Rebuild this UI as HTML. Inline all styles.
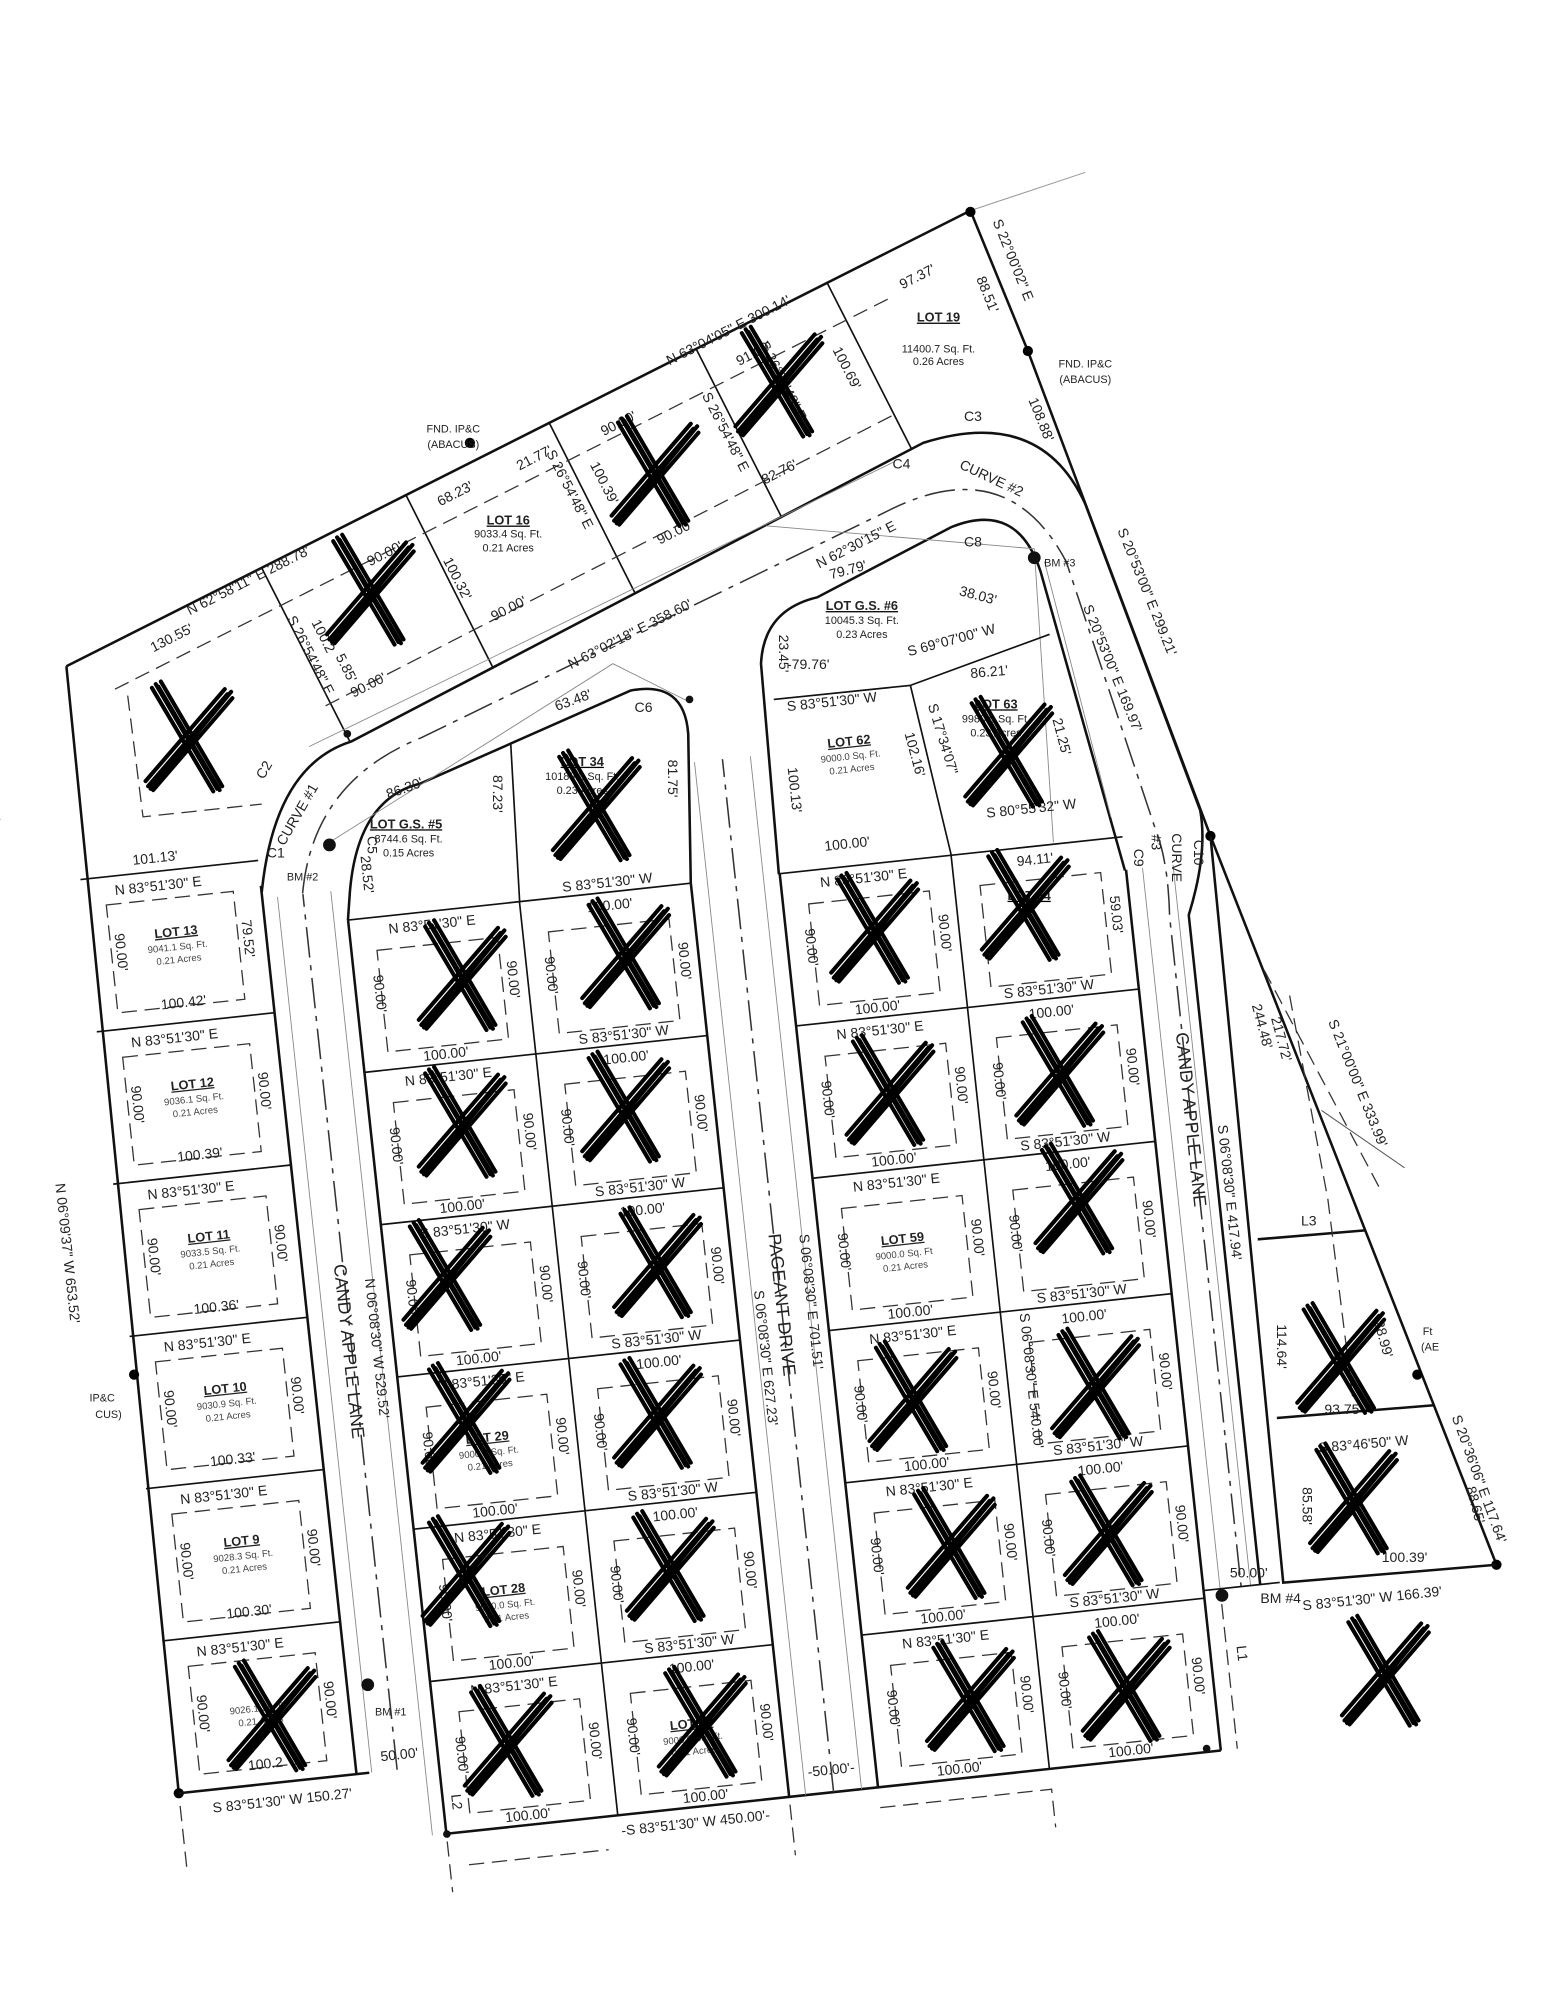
<!DOCTYPE html>
<html><head><meta charset="utf-8"><style>
html,body{margin:0;padding:0;background:#fff;}
svg{display:block;}
text{font-family:"Liberation Sans",sans-serif;fill:#222;}
.b{font-size:11px;}
.s{font-size:7.5px;fill:#444;}
.n{font-size:10px;font-weight:bold;text-decoration:underline;}
.L{stroke:#111;stroke-width:2;fill:none;}
.l{stroke:#111;stroke-width:1.3;fill:none;}
.d{stroke:#333;stroke-width:1;fill:none;stroke-dasharray:12 6;}
.c{stroke:#333;stroke-width:1.2;fill:none;stroke-dasharray:24 6 4 6;}
.w{stroke:#888;stroke-width:.7;fill:none;}
</style></head><body>
<svg width="1545" height="2000" viewBox="0 0 1210 1567" preserveAspectRatio="none" xmlns="http://www.w3.org/2000/svg">
<defs>
<g id="x" stroke="#000" stroke-linecap="round" fill="none">
<path d="M-26,-42 L22,40 M-22,-44 L26,38 M-29,-39 L19,42 M-24,-40 L24,41" stroke-width="3.2"/>
<path d="M-32,38 L30,-34 M-28,41 L34,-31 M-34,34 L28,-38 M-30,40 L33,-36" stroke-width="3.2"/>
</g>
</defs>
<rect width="1228" height="1590" fill="#fff"/>

<path class="L" d="M52,522 L760,165 L805,275 L948,655 L1172,1226"/>
<path class="L" d="M52,522 L140,1405"/>
<line x1="760" y1="165" x2="850" y2="135" stroke="#999" stroke-width=".8"/>
<circle cx="760" cy="166" r="4"/><circle cx="805" cy="275" r="4"/><circle cx="368" cy="347" r="4"/>
<circle cx="948" cy="655" r="4"/><circle cx="1110" cy="1077" r="4"/><circle cx="105" cy="1077" r="4"/>
<circle cx="1172" cy="1226" r="4"/><circle cx="140" cy="1405" r="4"/>

<path class="l" d="M205,445 L274,581 M318,388 L386,523 M430,331 L497,464 M545,273 L612,405 M648,222 L714,352"/>
<path class="d" d="M90,540 L700,232 M255,553 L700,325 M100,545 L112,640 L205,630"/>

<path class="L" d="M205,699 Q215,600 275,581 L723,347 Q815,318 850,395 L940,635 Q946,668 931,717 L987,1242"/>
<path class="L" d="M272.5,721 L274,699 Q280,626 329,614 L494,541 Q536,533 539,575 L541,692"/>
<path class="L" d="M610,685 L596,520 Q598,478 640,468 L745,413 Q797,392 815,448 L881,682"/>
<path class="L" d="M948,655 L1005,1240 L1172,1226 M985,971 L1069,964 M1000,1111 L1123,1101"/>
<path class="c" d="M237,700 Q245,612 330,578 L700,398 Q790,355 835,440 L905,650 Q915,675 916,718 L972,1243"/>
<path class="w" d="M258,660 L480,520 L540,550 M600,412 L810,430 L825,660 M818,440 L870,640 M242,585 L700,362"/>
<path class="d" d="M990,760 L1080,930 M1010,780 L1040,940 L1060,1100"/>
<line x1="1035" y1="870" x2="1100" y2="915" stroke="#555" stroke-width=".8"/>

<path class="l" d="M606,548 L713,537 L745,670 M713,537 L822,497"/>
<path class="l" d="M407,707 L400,583"/>

<g transform="translate(140,1405) rotate(-6.14)">
<path class="L" d="M140,0 L140,-700"/>
<path class="l" d="M0,0 H150 M0,-120 H140 M0,-240 H140 M0,-360 H140 M0,-480 H140 M0,-600 H140 M0,-720 H140"/>
<path class="L" d="M0,0 H150"/>
<g class="d">
<rect x="18" y="-698" width="100" height="85"/><rect x="18" y="-578" width="100" height="85"/>
<rect x="18" y="-458" width="100" height="85"/><rect x="18" y="-338" width="100" height="85"/>
<rect x="18" y="-218" width="100" height="85"/><rect x="18" y="-98" width="100" height="85"/>
</g>
<path class="c" d="M172,0 V-690"/>
<path class="w" d="M152,0 V-690 M194,54 V-690"/>
<path class="L" d="M205,54 V-666 M475,54 V-666 M205,54 H815"/>
<path class="l" d="M340,54 V-666 M205,-66 H475 M205,-186 H475 M205,-306 H475 M205,-426 H475 M205,-546 H475 M205,-666 H475"/>
<path class="c" d="M510,54 V-760"/>
<path class="w" d="M488,54 V-760 M532,54 V-760"/>
<path class="L" d="M545,54 V-666 M815,54 V-640"/>
<path class="l" d="M680,54 V-666 M545,-66 H815 M545,-186 H815 M545,-306 H815 M545,-426 H815 M545,-546 H815 M545,-666 H815"/>
<path class="w" d="M828,-72 V-640 M852,-72 V-640"/>
<path class="l" d="M815,-72 H875"/>
<path class="d" d="M828,-60 V54 M0,10 V60 M205,60 V100 M475,60 V100 M545,70 H680 V100 M220,80 H330"/>
<g class="d">
<rect x="225" y="-640" width="95" height="80"/><rect x="360" y="-640" width="95" height="80"/>
<rect x="225" y="-520" width="95" height="80"/><rect x="360" y="-520" width="95" height="80"/>
<rect x="225" y="-400" width="95" height="80"/><rect x="360" y="-400" width="95" height="80"/>
<rect x="225" y="-280" width="95" height="80"/><rect x="360" y="-280" width="95" height="80"/>
<rect x="225" y="-160" width="95" height="80"/><rect x="360" y="-160" width="95" height="80"/>
<rect x="225" y="-40" width="95" height="80"/><rect x="360" y="-40" width="95" height="80"/>
<rect x="565" y="-640" width="95" height="80"/><rect x="700" y="-640" width="95" height="80"/>
<rect x="565" y="-520" width="95" height="80"/><rect x="700" y="-520" width="95" height="80"/>
<rect x="565" y="-400" width="95" height="80"/><rect x="700" y="-400" width="95" height="80"/>
<rect x="565" y="-280" width="95" height="80"/><rect x="700" y="-280" width="95" height="80"/>
<rect x="565" y="-160" width="95" height="80"/><rect x="700" y="-160" width="95" height="80"/>
<rect x="565" y="-40" width="95" height="80"/><rect x="700" y="-40" width="95" height="80"/>
</g>

<g class="b" text-anchor="middle">
<text x="60" y="-705">N 83°51'30" E</text><text x="60" y="-585">N 83°51'30" E</text>
<text x="60" y="-465">N 83°51'30" E</text><text x="60" y="-345">N 83°51'30" E</text>
<text x="60" y="-225">N 83°51'30" E</text><text x="60" y="-105">N 83°51'30" E</text>
<text x="70" y="-612">100.42'</text><text x="70" y="-492">100.39'</text><text x="70" y="-372">100.36'</text>
<text x="70" y="-252">100.33'</text><text x="70" y="-132">100.30'</text><text x="70" y="-12">100.2</text>
<text x="60" y="-727">101.13'</text>
<text transform="translate(22,-660) rotate(90)">90.00'</text><text transform="translate(122,-660) rotate(90)">79.52'</text>
<text transform="translate(22,-540) rotate(90)">90.00'</text><text transform="translate(122,-540) rotate(90)">90.00'</text>
<text transform="translate(22,-420) rotate(90)">90.00'</text><text transform="translate(122,-420) rotate(90)">90.00'</text>
<text transform="translate(22,-300) rotate(90)">90.00'</text><text transform="translate(122,-300) rotate(90)">90.00'</text>
<text transform="translate(22,-180) rotate(90)">90.00'</text><text transform="translate(122,-180) rotate(90)">90.00'</text>
<text transform="translate(22,-60) rotate(90)">90.00'</text><text transform="translate(122,-60) rotate(90)">90.00'</text>
</g>
<g text-anchor="middle">
<text class="n" x="70" y="-668">LOT 13</text><text class="s" x="70" y="-657">9041.1 Sq. Ft.</text><text class="s" x="70" y="-647">0.21 Acres</text>
<text class="n" x="70" y="-548">LOT 12</text><text class="s" x="70" y="-537">9036.1 Sq. Ft.</text><text class="s" x="70" y="-527">0.21 Acres</text>
<text class="n" x="70" y="-428">LOT 11</text><text class="s" x="70" y="-417">9033.5 Sq. Ft.</text><text class="s" x="70" y="-407">0.21 Acres</text>
<text class="n" x="70" y="-308">LOT 10</text><text class="s" x="70" y="-297">9030.9 Sq. Ft.</text><text class="s" x="70" y="-287">0.21 Acres</text>
<text class="n" x="70" y="-188">LOT 9</text><text class="s" x="70" y="-177">9028.3 Sq. Ft.</text><text class="s" x="70" y="-167">0.21 Acres</text>
<text class="s" x="70" y="-57">9026.1 Sq. Ft.</text><text class="s" x="70" y="-47">0.21 Acres</text>
<text class="n" x="610" y="-368">LOT 59</text><text class="s" x="610" y="-357">9000.0 Sq. Ft</text><text class="s" x="610" y="-347">0.21 Acres</text>
<text class="n" x="270" y="-128">LOT 28</text><text class="s" x="270" y="-117">9000.0 Sq. Ft.</text><text class="s" x="270" y="-107">0.21 Acres</text>
<text class="n" x="270" y="-248">LOT 29</text><text class="s" x="270" y="-237">9000.0 Sq. Ft.</text><text class="s" x="270" y="-227">0.21 Acres</text>
<text class="n" x="405" y="-8">LOT 40</text><text class="s" x="405" y="3">9000.0 Sq. Ft.</text><text class="s" x="405" y="13">0.21 Acres</text>
</g>
<g class="b" text-anchor="middle">
<text x="270" y="-652">N 83°51'30" E</text><text x="270" y="-532">N 83°51'30" E</text><text x="270" y="-412">S 83°51'30" W</text>
<text x="270" y="-292">N 83°51'30" E</text><text x="270" y="-172">N 83°51'30" E</text><text x="270" y="-52">N 83°51'30" E</text>
<text x="270" y="-550">100.00'</text><text x="270" y="-430">100.00'</text><text x="270" y="-310">100.00'</text>
<text x="270" y="-190">100.00'</text><text x="270" y="-70">100.00'</text><text x="270" y="50">100.00'</text>
<text x="410" y="-670">S 83°51'30" W</text><text x="410" y="-550">S 83°51'30" W</text><text x="410" y="-430">S 83°51'30" W</text>
<text x="410" y="-310">S 83°51'30" W</text><text x="410" y="-190">S 83°51'30" W</text><text x="410" y="-70">S 83°51'30" W</text>
<text x="410" y="-652">100.00'</text><text x="410" y="-532">100.00'</text><text x="410" y="-412">100.00'</text>
<text x="410" y="-292">100.00'</text><text x="410" y="-172">100.00'</text><text x="410" y="-52">100.00'</text><text x="410" y="50">100.00'</text>
<text x="610" y="-652">N 83°51'30" E</text><text x="610" y="-532">N 83°51'30" E</text><text x="610" y="-412">N 83°51'30" E</text>
<text x="610" y="-292">N 83°51'30" E</text><text x="610" y="-172">N 83°51'30" E</text><text x="610" y="-52">N 83°51'30" E</text>
<text x="610" y="-550">100.00'</text><text x="610" y="-430">100.00'</text><text x="610" y="-310">100.00'</text>
<text x="610" y="-190">100.00'</text><text x="610" y="-70">100.00'</text><text x="610" y="50">100.00'</text>
<text x="745" y="-550">S 83°51'30" W</text><text x="745" y="-430">S 83°51'30" W</text><text x="745" y="-310">S 83°51'30" W</text>
<text x="745" y="-190">S 83°51'30" W</text><text x="745" y="-70">S 83°51'30" W</text>
<text x="745" y="-652">94.11'</text><text x="745" y="-532">100.00'</text><text x="745" y="-412">100.00'</text>
<text x="745" y="-292">100.00'</text><text x="745" y="-172">100.00'</text><text x="745" y="-52">100.00'</text><text x="745" y="50">100.00'</text>
<text x="600" y="-792">S 83°51'30" W</text><text x="600" y="-680">100.00'</text>
<text x="610" y="-760" class="n">LOT 62</text><text x="610" y="-749" class="s">9000.0 Sq. Ft.</text><text x="610" y="-739" class="s">0.21 Acres</text>
<text x="400" y="70">-S 83°51'30" W 450.00'-</text>
<text x="80" y="18">S 83°51'30" W  150.27'</text>
<text x="175" y="-8">50.00'</text><text x="510" y="40">-50.00'-</text>
</g>
<g class="b" text-anchor="middle">
<text transform="translate(220,-606) rotate(90)">90.00'</text><text transform="translate(325,-606) rotate(90)">90.00'</text>
<text transform="translate(220,-486) rotate(90)">90.00'</text><text transform="translate(325,-486) rotate(90)">90.00'</text>
<text transform="translate(220,-366) rotate(90)">90.00'</text><text transform="translate(325,-366) rotate(90)">90.00'</text>
<text transform="translate(220,-246) rotate(90)">90.00'</text><text transform="translate(325,-246) rotate(90)">90.00'</text>
<text transform="translate(220,-126) rotate(90)">90.00'</text><text transform="translate(325,-126) rotate(90)">90.00'</text>
<text transform="translate(220,-6) rotate(90)">90.00'</text><text transform="translate(325,-6) rotate(90)">90.00'</text>
<text transform="translate(355,-606) rotate(90)">90.00'</text><text transform="translate(460,-606) rotate(90)">90.00'</text>
<text transform="translate(355,-486) rotate(90)">90.00'</text><text transform="translate(460,-486) rotate(90)">90.00'</text>
<text transform="translate(355,-366) rotate(90)">90.00'</text><text transform="translate(460,-366) rotate(90)">90.00'</text>
<text transform="translate(355,-246) rotate(90)">90.00'</text><text transform="translate(460,-246) rotate(90)">90.00'</text>
<text transform="translate(355,-126) rotate(90)">90.00'</text><text transform="translate(460,-126) rotate(90)">90.00'</text>
<text transform="translate(355,-6) rotate(90)">90.00'</text><text transform="translate(460,-6) rotate(90)">90.00'</text>
<text transform="translate(560,-606) rotate(90)">90.00'</text><text transform="translate(665,-606) rotate(90)">90.00'</text>
<text transform="translate(560,-486) rotate(90)">90.00'</text><text transform="translate(665,-486) rotate(90)">90.00'</text>
<text transform="translate(560,-366) rotate(90)">90.00'</text><text transform="translate(665,-366) rotate(90)">90.00'</text>
<text transform="translate(560,-246) rotate(90)">90.00'</text><text transform="translate(665,-246) rotate(90)">90.00'</text>
<text transform="translate(560,-126) rotate(90)">90.00'</text><text transform="translate(665,-126) rotate(90)">90.00'</text>
<text transform="translate(560,-6) rotate(90)">90.00'</text><text transform="translate(665,-6) rotate(90)">90.00'</text>
<text transform="translate(695,-486) rotate(90)">90.00'</text><text transform="translate(800,-606) rotate(90)">59.03'</text>
<text transform="translate(800,-486) rotate(90)">90.00'</text><text transform="translate(800,-366) rotate(90)">90.00'</text>
<text transform="translate(800,-246) rotate(90)">90.00'</text><text transform="translate(800,-126) rotate(90)">90.00'</text>
<text transform="translate(800,-6) rotate(90)">90.00'</text><text transform="translate(695,-126) rotate(90)">90.00'</text>
<text transform="translate(695,-6) rotate(90)">90.00'</text><text transform="translate(695,-366) rotate(90)">90.00'</text>
<text transform="translate(560,-730) rotate(90)">100.13'</text>
<text transform="translate(220,-700) rotate(90)">28.52'</text>
<text transform="translate(-45,-430) rotate(90)">N 06°09'37" W  653.52'</text>
<text transform="translate(-65,-790) rotate(90)">113.52'</text>
<text transform="translate(188,-330) rotate(90)">N 06°08'30" W  529.52'</text>
<text transform="translate(490,-290) rotate(90)">S 06°08'30" E  627.23'</text>
<text transform="translate(530,-330) rotate(90)">S 06°08'30" E  701.51'</text>
<text transform="translate(695,-250) rotate(90)">S 06°08'30" E  540.00'</text>
<text transform="translate(865,-380) rotate(90)">S 06°08'30" E  417.94'</text>
<text transform="translate(836,-20) rotate(90)">L1</text>
<text transform="translate(212,30) rotate(90)">L2</text>
</g>
<g text-anchor="middle" style="font-size:14px">
<text transform="translate(165,-330) rotate(90)">CANDY APPLE LANE</text>
<text transform="translate(506,-330) rotate(90)">PAGEANT DRIVE</text>
<text transform="translate(840,-440) rotate(90)">CANDY APPLE LANE</text>
</g>
</g>

<g class="b" text-anchor="middle">
<text transform="translate(196,458) rotate(-27)">N 62°58'11" E  288.78'</text>
<text transform="translate(572,262) rotate(-27)">N 63°04'05" E  300.14'</text>
<text transform="translate(136,503) rotate(-27)">130.55'</text>
<text transform="translate(495,500) rotate(-27)">N 63°02'18" E  358.60'</text>
<text transform="translate(672,430) rotate(-27)">N 62°30'15" E</text>
<text transform="translate(358,390) rotate(-27)">68.23'</text>
<text transform="translate(420,362) rotate(-27)">21.77'</text>
<text transform="translate(303,437) rotate(-27)">90.00'</text>
<text transform="translate(290,540) rotate(-27)">90.00'</text>
<text transform="translate(400,480) rotate(-27)">90.00'</text>
<text transform="translate(486,335) rotate(-27)">90.00'</text>
<text transform="translate(530,420) rotate(-27)">90.00'</text>
<text transform="translate(592,280) rotate(-27)">91.00'</text>
<text transform="translate(612,373) rotate(-27)">82.76'</text>
<text transform="translate(720,220) rotate(-27)">97.37'</text>
<text transform="translate(665,450) rotate(-15)">79.79'</text>
<text transform="translate(765,470) rotate(15)">38.03'</text>
<text transform="translate(746,505) rotate(-15)">S 69°07'00" W</text>
<text x="633" y="524">-79.76'</text>
<text transform="translate(775,530) rotate(-5)">86.21'</text>
<text transform="translate(808,637) rotate(-6)">S 80°55'32" W</text>
<text transform="translate(318,621) rotate(-20)">86.30'</text>
<text transform="translate(450,552) rotate(-20)">63.48'</text>
<text transform="translate(240,515) rotate(63)">S 26°54'48" E</text>
<text transform="translate(355,455) rotate(63)">100.32'</text>
<text transform="translate(250,500) rotate(63)">100.2</text>
<text transform="translate(443,385) rotate(63)">S 26°54'48" E</text>
<text transform="translate(470,380) rotate(63)">100.39'</text>
<text transform="translate(565,340) rotate(63)">S 26°54'48" E</text>
<text transform="translate(610,300) rotate(63)">S 26°54'48" E</text>
<text transform="translate(660,290) rotate(63)">100.69'</text>
<text transform="translate(268,525) rotate(63)">5.85'</text>
<text transform="translate(790,205) rotate(68)">S 22°00'02" E</text>
<text transform="translate(770,232) rotate(68)">88.51'</text>
<text transform="translate(812,330) rotate(68)">108.88'</text>
<text transform="translate(895,465) rotate(68)">S 20°53'00" E  299.21'</text>
<text transform="translate(868,525) rotate(68)">S 20°53'00" E  169.97'</text>
<text transform="translate(1060,850) rotate(68)">S 21°00'00" E  333.99'</text>
<text transform="translate(985,805) rotate(75)">244.48'</text>
<text transform="translate(1000,815) rotate(75)">217.72'</text>
<text transform="translate(1155,1160) rotate(70)">S 20°36'06" E  117.64'</text>
<text transform="translate(713,592) rotate(75)">102.16'</text>
<text transform="translate(735,580) rotate(73)">S 17°34'07"</text>
<text transform="translate(828,578) rotate(75)">21.25'</text>
<text transform="translate(386,622) rotate(90)">87.23'</text>
<text transform="translate(523,610) rotate(90)">81.75'</text>
<text transform="translate(610,512) rotate(90)">23.45'</text>
<text transform="translate(288,662) rotate(90)">C5</text>
<text transform="translate(210,605) rotate(-60)">C2</text>
<text transform="translate(236,640) rotate(-60)">CURVE #1</text>
<text x="216" y="672">C1</text>
<text x="762" y="330">C3</text><text x="706" y="367">C4</text><text x="762" y="428">C8</text><text x="504" y="558">C6</text>
<text transform="translate(775,378) rotate(25)">CURVE  #2</text>
<text transform="translate(935,668) rotate(90)">C10</text>
<text transform="translate(918,672) rotate(90)">CURVE</text>
<text transform="translate(902,660) rotate(90)">#3</text>
<text transform="translate(888,672) rotate(90)">C9</text>
<text x="1025" y="960">L3</text>
<text transform="translate(1000,1055) rotate(90)">114.64'</text>
<text transform="translate(1080,1050) rotate(75)">28.99'</text>
<text x="1052" y="1108">93.75'</text>
<text transform="translate(1068,1135) rotate(-5)">S 83°46'50" W</text>
<text transform="translate(1020,1180) rotate(90)">85.58'</text>
<text transform="translate(1152,1180) rotate(75)">88.65'</text>
<text x="1100" y="1224">100.39'</text>
<text x="978" y="1236">50.00'</text>
<text transform="translate(1075,1256) rotate(-6)">S 83°51'30" W  166.39'</text>
<text x="1003" y="1256">BM #4</text>
</g>
<g class="s" style="font-size:8.5px" text-anchor="middle">
<text x="355" y="339">FND. IP&amp;C</text><text x="355" y="351">(ABACUS)</text>
<text x="850" y="288">FND. IP&amp;C</text><text x="850" y="300">(ABACUS)</text>
<text x="80" y="1098">IP&amp;C</text><text x="85" y="1111">CUS)</text>
<text x="1118" y="1046">Ft</text><text x="1120" y="1058">(AE</text>
<text x="237" y="690">BM #2</text><text x="306" y="1344">BM #1</text><text x="830" y="444">BM #3</text>
<text x="735" y="276">11400.7 Sq. Ft.</text><text x="735" y="286">0.26 Acres</text>
<text x="398" y="421">9033.4 Sq. Ft.</text><text x="398" y="432">0.21 Acres</text>
<text x="320" y="660">8744.6 Sq. Ft.</text><text x="320" y="671">0.15 Acres</text>
<text x="456" y="611">10189.3 Sq. Ft.</text><text x="456" y="622">0.23 Acres</text>
<text x="675" y="489">10045.3 Sq. Ft.</text><text x="675" y="500">0.23 Acres</text>
<text x="780" y="566">9980.0 Sq. Ft.</text><text x="780" y="577">0.23 Acres</text>
</g>
<g class="n" text-anchor="middle">
<text x="735" y="252">LOT 19</text><text x="398" y="411">LOT 16</text>
<text x="318" y="649">LOT G.S. #5</text><text x="456" y="600">LOT 34</text>
<text x="675" y="478">LOT G.S. #6</text><text x="780" y="555">LOT 63</text>
<text x="806" y="705">LOT 64</text>
</g>
<g fill="#111">
<circle cx="258" cy="662" r="5"/><circle cx="288" cy="1320" r="5"/><circle cx="810" cy="437" r="5"/><circle cx="957" cy="1250" r="5"/>
<circle cx="272" cy="575" r="3"/><circle cx="350" cy="1437" r="3"/><circle cx="945" cy="1370" r="3"/><circle cx="540" cy="548" r="3"/>
</g>

<g>
<use href="#x" x="148" y="578"/><use href="#x" x="290" y="463"/><use href="#x" x="513" y="370"/><use href="#x" x="610" y="300"/>
<use href="#x" x="467" y="632"/><use href="#x" x="362" y="765"/><use href="#x" x="490" y="748"/><use href="#x" x="362" y="880"/>
<use href="#x" x="490" y="868"/><use href="#x" x="350" y="1000"/><use href="#x" x="515" y="990"/><use href="#x" x="365" y="1112"/>
<use href="#x" x="515" y="1108"/><use href="#x" x="365" y="1232"/><use href="#x" x="525" y="1228"/><use href="#x" x="213" y="1345"/>
<use href="#x" x="398" y="1365"/><use href="#x" x="550" y="1350"/><use href="#x" x="685" y="728"/><use href="#x" x="803" y="710"/>
<use href="#x" x="697" y="855"/><use href="#x" x="830" y="840"/><use href="#x" x="845" y="940"/><use href="#x" x="715" y="1095"/>
<use href="#x" x="858" y="1085"/><use href="#x" x="745" y="1210"/><use href="#x" x="868" y="1200"/><use href="#x" x="760" y="1330"/>
<use href="#x" x="882" y="1322"/><use href="#x" x="790" y="590"/><use href="#x" x="1050" y="1065"/><use href="#x" x="1060" y="1175"/>
<use href="#x" x="1085" y="1310"/>
</g>
</svg>
</body></html>
